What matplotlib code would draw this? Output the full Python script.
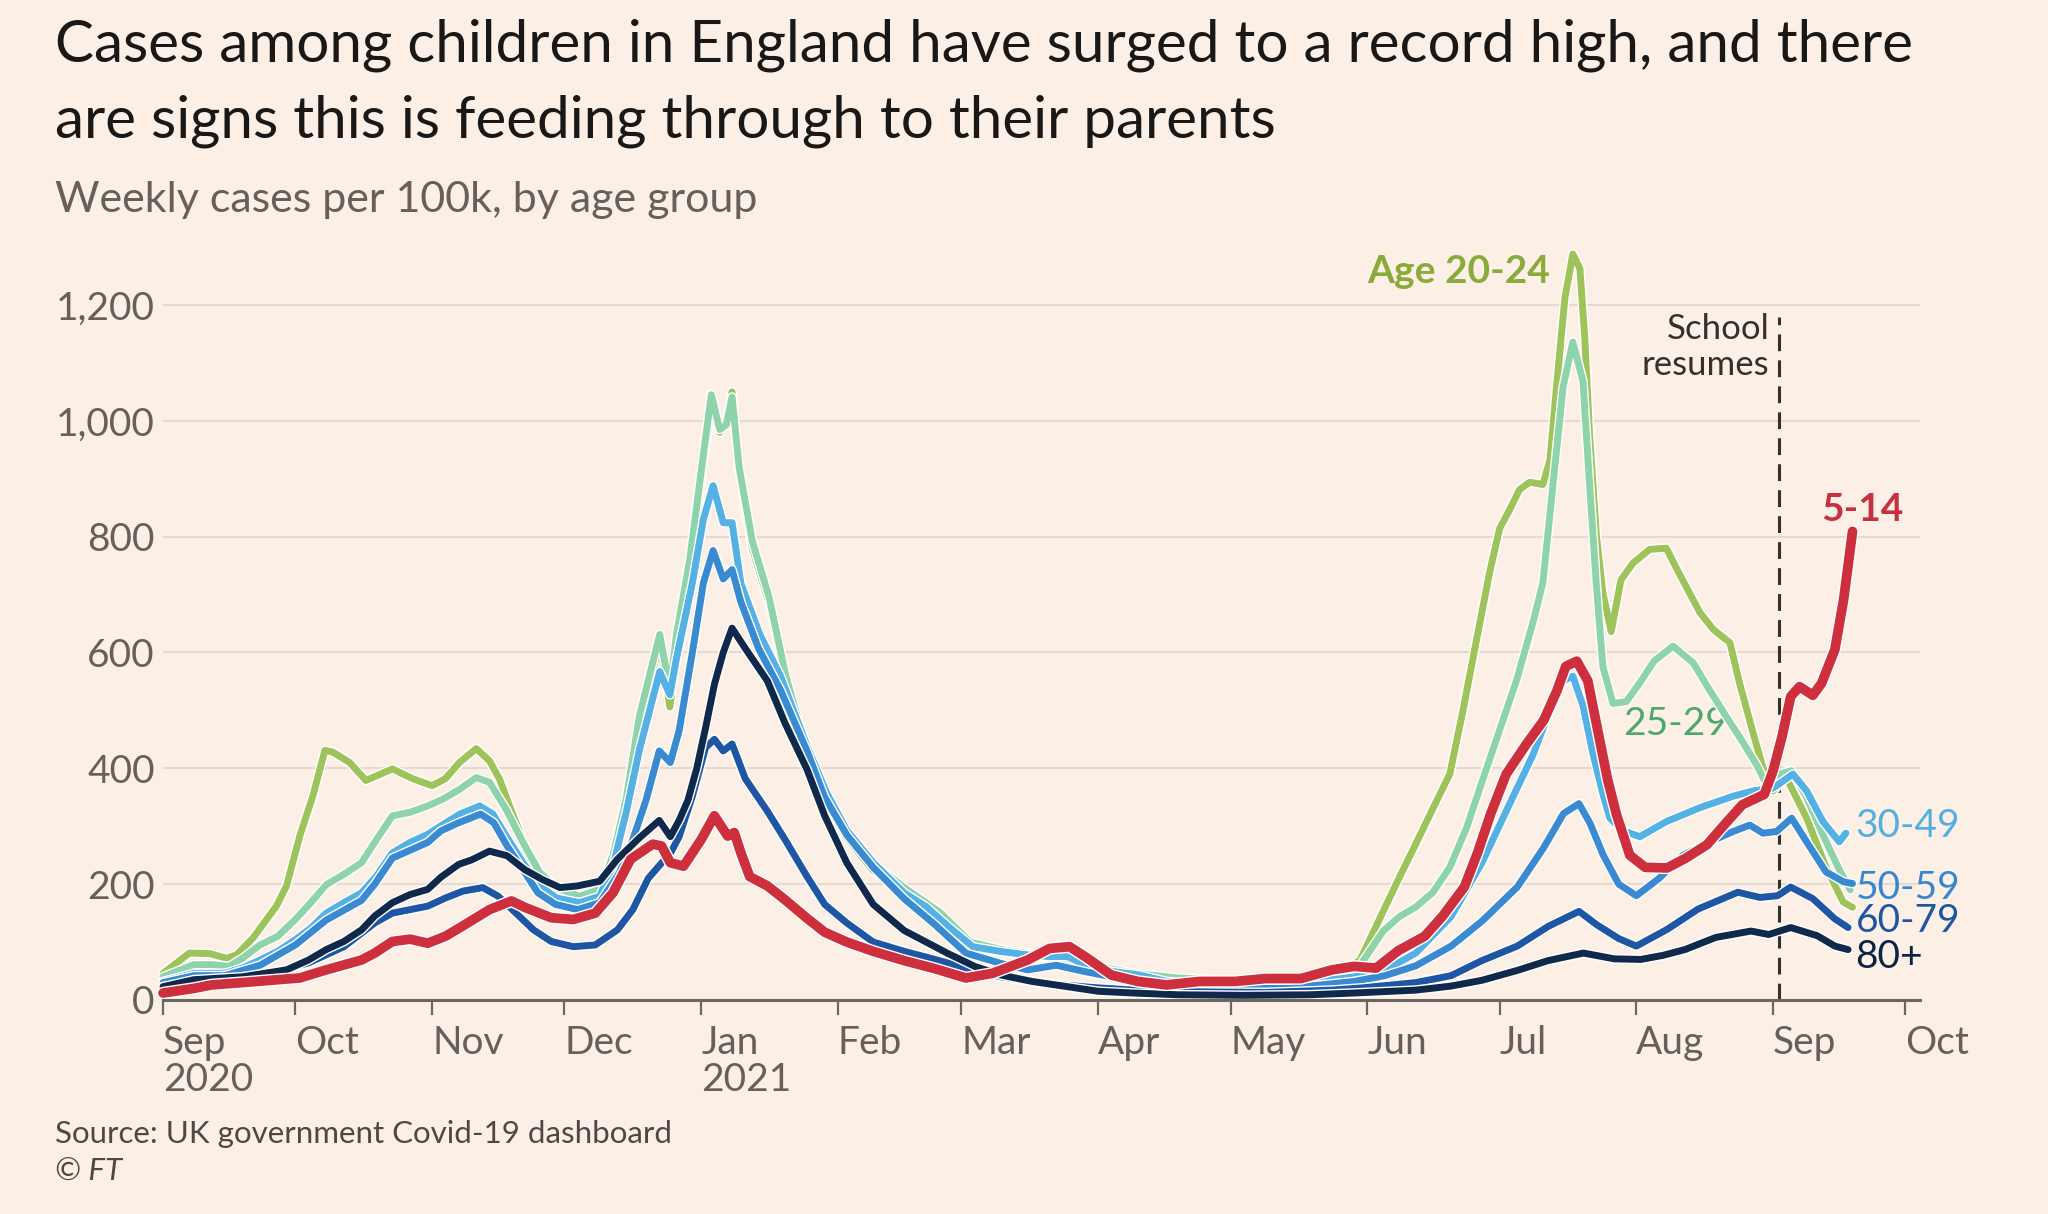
import numpy as np
import pandas as pd
import matplotlib
matplotlib.use("Agg")
import matplotlib.pyplot as plt
import matplotlib.patheffects as pe

# data: (days since 1 Sep 2020, weekly cases per 100k)
START = pd.Timestamp("2020-09-01")

age_20_24 = [(0, 46), (6, 81), (10.6, 80), (14.4, 72), (16.7, 78), (20.4, 107), (25.7, 162), (28, 197),
             (31, 283), (34, 353), (36.7, 431), (38.5, 428), (42.3, 410), (46, 379), (52, 399), (56.6, 382),
             (61, 370), (64, 382), (67.2, 410), (71, 434), (74, 413), (76.3, 381), (79.3, 320), (83.9, 230),
             (87.6, 190), (92.9, 180), (96.7, 180), (100.5, 200), (104, 310), (108, 470), (112.6, 620),
             (114.9, 506), (116.4, 600), (119.4, 740), (122.4, 920), (124.3, 1030), (126.2, 980),
             (127.7, 1000), (129, 1050), (130.6, 915), (133.6, 780), (137.4, 685), (141.2, 550), (145.7, 430),
             (150.2, 345), (154.8, 282), (160.8, 225), (168.4, 185), (176, 145), (183, 97), (190, 84),
             (198, 75), (205, 70), (212, 56), (220, 44), (230, 37), (245, 31), (260, 37), (266, 45),
             (271.3, 68), (276.6, 153), (280.3, 212), (284.1, 271), (287.9, 331), (291.7, 390), (294.7, 500),
             (297.7, 619), (300.7, 737), (303, 814), (305.3, 847), (307.5, 881), (309.8, 894), (312.8, 890),
             (314.4, 932), (315.9, 1059), (317.8, 1212), (319.6, 1288), (321.2, 1263), (322.3, 1144),
             (323.4, 975), (324.9, 805), (326.4, 703), (328.3, 636), (330.5, 725), (333.2, 754), (337, 778),
             (340.8, 780), (343.1, 745), (348.4, 669), (351.4, 640), (355.2, 617), (357.4, 547), (360.5, 460),
             (362.7, 401), (365, 361), (368, 384), (372.6, 314), (377.1, 227), (380.9, 169), (383, 160)]

age_25_29 = [(0, 40), (7, 61), (11, 61), (15, 58), (18, 72), (22, 95), (26, 110), (30, 139), (33.5, 168),
             (37, 199), (41, 217), (45, 237), (48.4, 277), (52, 318), (56, 324), (60, 335), (63.5, 347),
             (67.3, 364), (71, 384), (74, 376), (77.8, 329), (81.6, 272), (85.4, 220), (89.2, 194),
             (94.4, 179), (99, 191), (102, 249), (105, 347), (108, 490), (112.6, 631), (114.9, 535),
             (116.4, 631), (119.4, 760), (122.4, 936), (124.3, 1045), (126.2, 985), (127.7, 993), (129, 1041),
             (130.6, 920), (133.6, 792), (137.4, 695), (141.2, 559), (145.7, 438), (150.2, 355), (154.8, 292),
             (160.8, 236), (168.4, 192), (176, 152), (183, 100), (190, 87), (198, 78), (205, 72), (212, 58),
             (220, 46), (230, 38), (245, 32), (260, 38), (266, 45), (271.3, 59), (276.6, 119), (280.3, 144),
             (284.1, 161), (287.9, 186), (291.7, 229), (295.5, 297), (299.2, 381), (303, 466), (306.8, 551),
             (310.6, 653), (312.8, 720), (315.1, 890), (317.4, 1059), (319.6, 1136), (321.9, 1068),
             (323.4, 890), (324.9, 720), (326.4, 576), (328.7, 512), (331.7, 515), (335, 550), (338, 585),
             (342.3, 611), (346.9, 582), (350.6, 535), (354.4, 489), (357.4, 454), (361.2, 407), (363.5, 372),
             (366.5, 390), (369.2, 396), (372.6, 350), (376.3, 285), (380, 225), (382.5, 190)]

age_30_49 = [(0, 32), (7, 46), (14, 46), (18, 55), (22, 69), (26, 84), (30, 104), (33.5, 124), (37, 150),
             (41, 168), (45, 185), (48.4, 214), (52, 254), (56, 272), (60, 286), (63.5, 303), (67.3, 321),
             (71.8, 335), (74.8, 321), (77.8, 283), (81.6, 237), (85.4, 197), (89.2, 176), (94.4, 168),
             (99, 179), (102, 231), (105, 324), (108, 432), (111, 520), (112.6, 567), (114.9, 527),
             (116.4, 590), (120, 720), (122.5, 830), (124.7, 888), (127, 824), (129, 824), (131, 719),
             (135.3, 631), (140, 559), (146, 438), (150.4, 358), (155, 293), (161, 237), (168, 185),
             (173, 161), (178, 127), (183.6, 92), (189.7, 84), (195.7, 78), (201, 75), (205, 75), (209.3, 60),
             (215.4, 49), (221.4, 43), (227.5, 32), (240, 25), (255, 25), (265, 35), (270, 40), (277, 51),
             (284, 81), (292, 144), (299, 237), (305.3, 339), (310.6, 424), (314.4, 500), (317.4, 551),
             (319.6, 559), (321.9, 508), (324.2, 424), (326.4, 356), (328, 314), (331, 292), (334.8, 282),
             (340.8, 308), (348.4, 332), (356, 352), (360.5, 361), (365, 366), (369.5, 390), (372.6, 361),
             (376.3, 308), (380, 273), (381.5, 288)]

age_50_59 = [(0, 30), (7, 42), (14, 42), (22, 60), (30, 95), (37, 138), (45, 172), (48, 200), (52, 245),
             (60, 272), (63, 292), (67, 306), (72, 321), (75, 306), (78, 266), (82, 220), (85, 185), (89, 165),
             (94, 156), (99, 168), (103.5, 220), (106.5, 277), (109.5, 345), (112.5, 430), (115, 410),
             (117, 465), (120, 600), (122.5, 720), (124.7, 776), (127, 727), (129, 743), (131, 687), (135, 607),
             (140, 535), (146, 430), (150, 350), (155, 285), (161, 229), (168, 175), (175, 130), (182, 81),
             (190, 63), (196, 52), (202.5, 60), (209, 49), (215, 40), (227.5, 23), (240, 20), (255, 20),
             (265, 28), (270, 32), (277, 42), (284, 59), (292, 93), (299, 136), (307, 195), (313, 263),
             (317.5, 322), (321, 339), (323.5, 305), (326.5, 250), (330, 200), (334, 180), (339, 209),
             (344.6, 250), (350.6, 273), (356, 291), (359.7, 302), (362.7, 288), (365.8, 291), (369.2, 314),
             (372.6, 273), (377, 221), (381, 204), (383, 201)]

age_60_79 = [(0, 23), (21, 40), (33, 64), (41, 92), (48, 133), (52, 150), (60, 162), (64, 176), (68, 188),
             (72.5, 194), (76, 179), (80, 150), (84, 121), (88, 101), (93, 92), (98, 95), (103, 121),
             (106.5, 156), (110, 210), (112.5, 232), (115, 253), (117, 282), (120, 352), (123, 436), (125, 450),
             (127, 430), (129, 442), (132, 382), (137, 326), (141, 277), (146, 213), (150, 165), (155, 133),
             (161, 100), (168, 84), (175, 70), (182, 55), (190, 40), (198, 30), (210, 22), (220, 17), (235, 14),
             (250, 13), (265, 17), (272, 21), (284, 30), (292, 42), (299, 68), (307, 93), (314, 127), (321, 153),
             (325, 130), (330, 106), (334, 93), (341, 122), (348, 157), (357, 186), (362, 177), (366, 180),
             (369, 195), (374, 175), (379, 140), (382, 125)]

age_80_plus = [(0, 23), (7, 35), (18, 40), (28, 52), (33, 69), (37, 87), (41, 101), (45, 121), (48, 145),
               (52, 168), (56, 182), (60, 191), (63, 212), (67, 234), (70, 242), (74, 257), (78, 249), (82, 225),
               (86, 208), (90, 194), (94, 197), (99, 205), (103, 243), (108, 280), (112.5, 310), (115, 282),
               (117, 310), (119, 345), (121, 400), (123, 470), (125, 545), (127, 600), (129, 642), (132, 607),
               (137, 551), (141, 478), (146, 398), (150, 318), (155, 237), (161, 165), (168, 120), (173, 100),
               (178, 80), (184, 58), (190, 43), (197, 32), (205, 23), (212, 15), (220, 12), (230, 9), (245, 8),
               (260, 9), (270, 12), (284, 17), (292, 24), (299, 34), (307, 51), (314, 68), (322, 81), (329, 71),
               (335, 70), (340, 77), (345, 87), (352, 108), (360, 119), (364, 113), (369, 125), (375, 111),
               (379, 93), (382, 87)]

age_5_14 = [(0, 12), (7, 20), (11, 26), (18, 30), (26, 35), (31, 38), (37, 52), (45, 69), (48, 81), (52, 101),
            (56, 105), (60, 98), (64, 110), (68, 128), (74, 156), (79, 171), (82, 160), (88, 142), (93, 139),
            (98, 150), (102, 185), (106, 243), (111, 269), (113, 266), (115, 237), (118, 231), (122, 277),
            (125, 318), (128, 283), (129.5, 289), (131, 254), (133, 213), (137, 197), (141, 173), (146, 141),
            (150, 117), (155, 100), (161, 84), (168, 68), (175, 54), (182, 38), (188, 46), (196, 69), (201, 89),
            (205.5, 92), (209, 75), (215, 43), (221, 32), (227.5, 26), (235, 32), (243, 32), (250, 37),
            (258, 37), (265, 52), (270, 58), (275, 55), (280, 85), (286, 110), (290, 144), (295, 195),
            (298, 254), (301, 322), (304.5, 390), (309, 441), (313, 483), (316, 534), (318, 576), (320.5, 585),
            (323, 551), (325, 475), (327.5, 380), (329.5, 320), (332.5, 250), (336, 229), (341, 228),
            (345, 244), (350, 268), (354, 303), (358, 337), (363, 355), (365, 396), (367, 454), (369, 524),
            (371, 541), (374, 526), (376, 547), (379, 605), (381, 692), (383, 809)]

school_resumes = 366.3  # days since START

month_labels = ["Sep\n2020", "Oct", "Nov", "Dec", "Jan\n2021", "Feb", "Mar", "Apr",
                "May", "Jun", "Jul", "Aug", "Sep", "Oct"]
y_ticks = [0, 200, 400, 600, 800, 1000, 1200]


def day(d):
    return START + pd.to_timedelta(d, unit="D")


def unpack(points):
    d, v = zip(*points)
    return day(np.array(d)), np.array(v)


bg = "#fcf0e6"
plt.rcParams["font.family"] = ["Lato", "DejaVu Sans"]

fig = plt.figure(figsize=(20.48, 12.14), dpi=100, facecolor=bg)
ax = fig.add_axes([0.0796, 0.1763, 0.8579, 0.6202])
ax.set_facecolor(bg)

# series: data, line colour, line width
series = [
    (age_20_24, "#9ec35a", 5.0),
    (age_25_29, "#8fd3aa", 5.0),
    (age_30_49, "#55b1e4", 5.0),
    (age_50_59, "#3a8ad2", 5.0),
    (age_60_79, "#1f56a3", 5.0),
    (age_80_plus, "#10294a", 5.0),
    (age_5_14, "#cd2f3d", 7.0),
]
for z, (pts, col, lw) in enumerate(series):
    x, y = unpack(pts)
    ax.plot(x, y, color=col, lw=lw, solid_capstyle="round", solid_joinstyle="round",
            zorder=3 + z, clip_on=False,
            path_effects=[pe.Stroke(linewidth=lw + 2.0, foreground="#ffffff"), pe.Normal()])

# school resumes marker
ax.plot([day(school_resumes)] * 2, [0, 1180], color="#33302e", lw=2.2,
        dashes=(5.5, 3), zorder=2, clip_on=False)
ax.text(day(364.2), 1128, "School\nresumes", ha="right", va="center", fontsize=25,
        color="#33302e", linespacing=1.15)

# direct labels
lab = dict(fontsize=28, va="center")
ax.text(day(314.5), 1258, "Age 20-24", ha="right", color="#8aab3a", fontweight="bold", **lab)
ax.text(day(342.9), 477, "25-29", ha="center", color="#4ea86c", **lab)
ax.text(day(385.3), 847, "5-14", ha="center", color="#c8303f", fontweight="bold", **lab)
ax.text(day(383.7), 301, "30-49", ha="left", color="#52afe0", **lab)
ax.text(day(383.7), 193, "50-59", ha="left", color="#3686d0", **lab)
ax.text(day(383.7), 136, "60-79", ha="left", color="#1d55a3", **lab)
ax.text(day(383.7), 74, "80+", ha="left", color="#0c2342", **lab)

# axes styling
ax.set_xlim(day(0), day(398.3))
ax.set_ylim(0, 1300)
ax.set_yticks(y_ticks)
ax.set_yticklabels([f"{v:,}" for v in y_ticks])
ax.yaxis.grid(True, color="#e2d8cf", lw=1.3)
ax.set_axisbelow(True)
for s in ["top", "right", "left"]:
    ax.spines[s].set_visible(False)
ax.spines["bottom"].set_color("#6b6661")
ax.spines["bottom"].set_linewidth(2.2)
ax.spines["bottom"].set_zorder(20)

ticks = pd.date_range("2020-09-01", "2021-10-01", freq="MS")
ax.set_xticks(ticks)
ax.set_xticklabels(month_labels, ha="left", linespacing=1.05)
ax.tick_params(axis="y", length=0, pad=6, labelsize=28, labelcolor="#66605c")
ax.tick_params(axis="x", length=11, width=1.6, color="#6b6661", pad=7,
               labelsize=28, labelcolor="#66605c")

# titles and footer
fig.text(0.0269, 1 - 62 / 1214, "Cases among children in England have surged to a record high, and there",
         fontsize=42, color="#1a1817", va="baseline")
fig.text(0.0269, 1 - 137 / 1214, "are signs this is feeding through to their parents",
         fontsize=42, color="#1a1817", va="baseline")
fig.text(0.0269, 1 - 212 / 1214, "Weekly cases per 100k, by age group",
         fontsize=31, color="#66605c", va="baseline")
fig.text(0.0269, 1 - 1143 / 1214, "Source: UK government Covid-19 dashboard",
         fontsize=22.5, color="#4d4845", va="baseline")
fig.text(0.0269, 1 - 1181 / 1214, "© FT", fontsize=22.5, color="#4d4845", va="baseline", style="italic")

fig.savefig("out.png", dpi=100, facecolor=bg)
